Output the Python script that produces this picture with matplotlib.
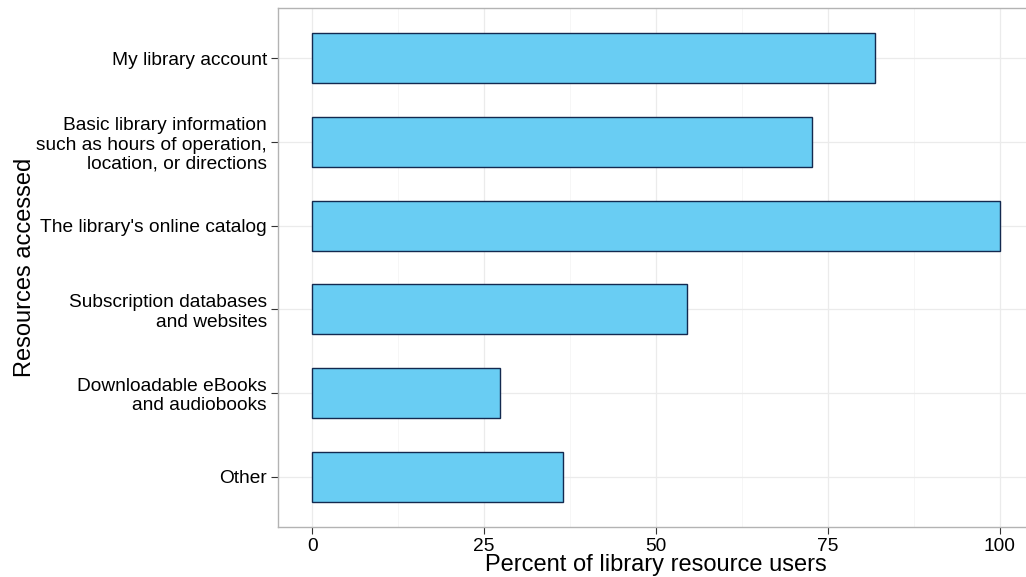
import matplotlib
matplotlib.use("Agg")
import matplotlib.pyplot as plt
from matplotlib.ticker import MultipleLocator

categories = [
    "My library account",
    "Basic library information\nsuch as hours of operation,\nlocation, or directions",
    "The library's online catalog",
    "Subscription databases\nand websites",
    "Downloadable eBooks\nand audiobooks",
    "Other",
]
percents = [81.8, 72.7, 100.0, 54.5, 27.3, 36.4]
xticks = [0, 25, 50, 75, 100]

plt.rcParams["font.family"] = ["Liberation Sans", "DejaVu Sans"]

fig = plt.figure(figsize=(10.26, 5.77), dpi=100)
# panel runs slightly past the right edge of the image, as in the reference
ax = fig.add_axes([278 / 1026, 1 - 527 / 577, (1034 - 278) / 1026, (527 - 8) / 577])

ypos = list(range(len(categories)))[::-1]
ax.barh(ypos, percents, height=0.6, color="#69cdf3", edgecolor="#13294f",
        linewidth=1.0, zorder=3)

ax.set_xlim(-5, 105)
ax.set_ylim(-0.6, len(categories) - 1 + 0.6)
ax.set_xticks(xticks)
ax.set_xticklabels([str(t) for t in xticks])
ax.xaxis.set_minor_locator(MultipleLocator(12.5))
ax.set_yticks(ypos)
ax.set_yticklabels(categories, ha="right", multialignment="right", linespacing=1.17)

ax.grid(True, which="major", color="#ebebeb", lw=0.9, zorder=0)
ax.grid(True, which="minor", axis="x", color="#f5f5f5", lw=0.6, zorder=0)
ax.set_axisbelow(True)
for s in ax.spines.values():
    s.set_color("#b3b3b3")
    s.set_linewidth(1.0)

ax.tick_params(axis="both", which="major", length=5, color="#333333",
               labelsize=13.8, labelcolor="black", pad=3)
ax.tick_params(axis="x", which="minor", length=0)

ax.set_xlabel("Percent of library resource users", fontsize=17)
ax.xaxis.set_label_coords(0.5, -0.052)
ax.set_ylabel("Resources accessed", fontsize=17, labelpad=0)

fig.savefig("out.png", dpi=100)
